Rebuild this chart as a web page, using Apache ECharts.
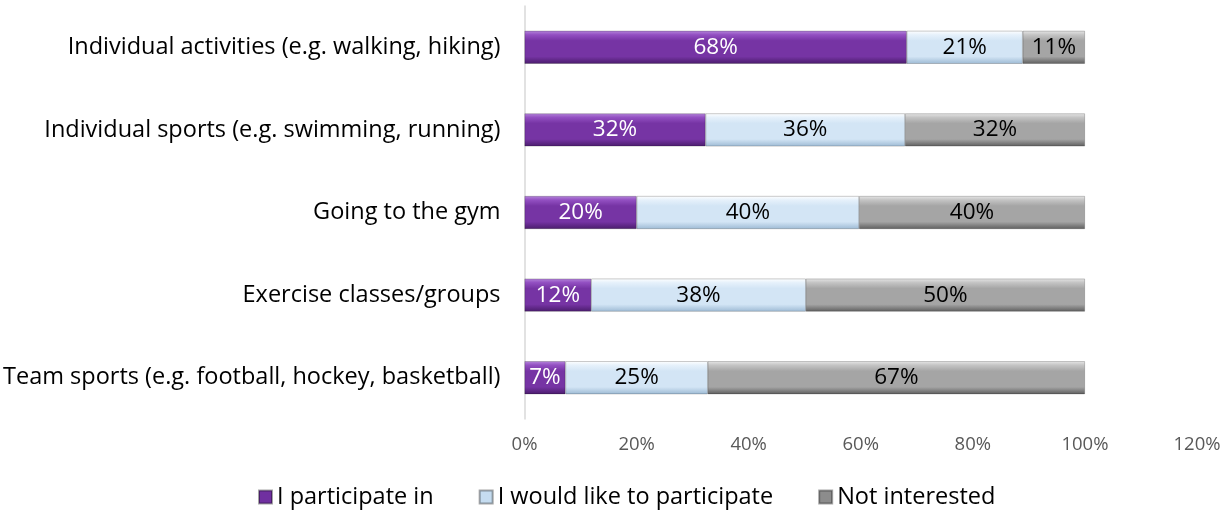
<!DOCTYPE html>
<html><head><meta charset="utf-8">
<script src="https://cdn.jsdelivr.net/npm/echarts@6/dist/echarts.min.js"></script>
<style>html,body{margin:0;padding:0;background:#fff}#c{width:1225px;height:510px}</style>
</head><body><div id="c"></div>
<script>
const categories = [
  'Individual activities (e.g. walking, hiking)',
  'Individual sports (e.g. swimming, running)',
  'Going to the gym',
  'Exercise classes/groups',
  'Team sports (e.g. football, hockey, basketball)'
];
const seriesNames = ['I participate in', 'I would like to participate', 'Not interested'];
const participate = [68.2, 32.3, 20.0, 11.9, 7.3];
const wouldLike = [20.7, 35.6, 39.7, 38.3, 25.4];
const notInterested = [11.1, 32.1, 40.3, 49.8, 67.3];
const xTicks = [0, 20, 40, 60, 80, 100, 120];

const FONT = 'Open Sans';
function grad(top, hi, mid, bot) {
  return new echarts.graphic.LinearGradient(0, 0, 0, 1, [
    {offset: 0, color: top}, {offset: 0.12, color: hi}, {offset: 0.3, color: mid},
    {offset: 0.78, color: mid}, {offset: 1, color: bot}
  ]);
}
const fills = [
  grad('#B485DA', '#9350C2', '#7634A4', '#4A1C6C'),
  grad('#FFFFFF', '#E6F1FB', '#D3E5F5', '#9DBAD4'),
  grad('#E6E6E6', '#C4C4C4', '#A5A5A5', '#5E5E5E')
];
const legendColors = ['#7030A0', '#C5DCF0', '#8C8C8C'];
const labelColors = ['#FFFFFF', '#000000', '#000000'];
const values = [participate, wouldLike, notInterested];

const chart = echarts.init(document.getElementById('c'), null, {renderer: 'canvas'});
chart.setOption({
  animation: false,
  textStyle: {fontFamily: FONT},
  grid: {left: 524, right: 28, top: 6, height: 413, containLabel: false},
  legend: {
    top: 480, left: 253, itemWidth: 13, itemHeight: 13, itemGap: 45,
    icon: 'rect',
    textStyle: {fontFamily: FONT, fontSize: 23.5, color: '#000', padding: [0, 0, 0, 0]},
    data: seriesNames.map((n, i) => ({name: n, itemStyle: {color: legendColors[i]}}))
  },
  xAxis: {
    type: 'value', min: xTicks[0], max: xTicks[xTicks.length - 1], interval: 20,
    axisLine: {show: false}, axisTick: {show: false}, splitLine: {show: false},
    axisLabel: {formatter: '{value}%', color: '#595959', fontSize: 18.5, fontFamily: FONT, margin: 16}
  },
  yAxis: {
    type: 'category', inverse: true, data: categories,
    axisLine: {show: true, lineStyle: {color: '#D9D9D9', width: 1.5}},
    axisTick: {show: false},
    axisLabel: {color: '#000', fontSize: 23.5, fontFamily: FONT, margin: 24}
  },
  series: values.map((v, i) => ({
    name: seriesNames[i], type: 'bar', stack: 'total', barWidth: 33,
    data: v,
    itemStyle: {color: fills[i], borderColor: 'rgba(0,0,0,0.35)', borderWidth: 0.6},
    label: {
      show: true, position: 'inside', color: labelColors[i], fontSize: 22.5, fontFamily: FONT,
      formatter: p => Math.round(p.value) + '%'
    }
  }))
});
</script></body></html>
